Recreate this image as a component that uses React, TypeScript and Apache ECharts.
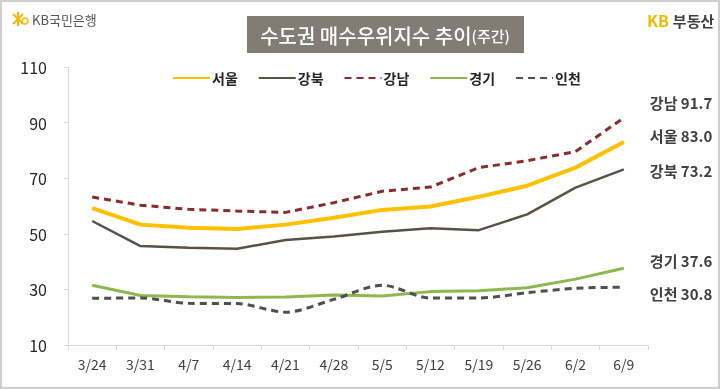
import React, { useEffect, useRef } from "react";
import * as echarts from "echarts";

const categories = ["3/24", "3/31", "4/7", "4/14", "4/21", "4/28", "5/5", "5/12", "5/19", "5/26", "6/2", "6/9"];
const seoul = [59.2, 53.3, 52.2, 51.7, 53.3, 55.8, 58.6, 59.8, 63.3, 67.3, 73.8, 83.0];
const gangbuk = [54.6, 45.6, 45.0, 44.6, 47.8, 49.0, 50.7, 52.0, 51.3, 57.0, 66.6, 73.2];
const gangnam = [63.2, 60.3, 58.8, 58.2, 57.7, 61.2, 65.3, 66.8, 73.8, 76.3, 79.6, 91.7];
const gyeonggi = [31.5, 27.8, 27.4, 27.1, 27.3, 28.0, 27.6, 29.2, 29.5, 30.6, 33.7, 37.6];
const incheon = [26.8, 26.9, 25.0, 24.9, 21.8, 26.4, 31.5, 26.9, 26.9, 28.8, 30.4, 30.8];

const FONT = '"Noto Sans CJK KR", "Noto Sans", sans-serif';

export default function App() {
  const ref = useRef<HTMLDivElement>(null);
  useEffect(() => {
    document.body.style.margin = "0";
    const chart = echarts.init(ref.current!, null, { renderer: "svg" });
    const endLabel = (dx: number, dy: number) => ({
      show: true,
      offset: [dx, dy],
      color: "#404040",
      fontSize: 15,
      fontWeight: "bold",
      fontFamily: FONT,
      formatter: (p: any) => {
        const v = Array.isArray(p.value) ? p.value[1] : p.value;
        return `${p.seriesName} ${Number(v).toFixed(1)}`;
      },
    });
    const mk = (name: string, data: number[], color: string, width: number, type: string, dx: number, dy: number, smooth: any = false, z = 2) => ({
      name,
      type: "line",
      data,
      symbol: "none",
      smooth,
      z,
      lineStyle: { color, width, type: type === "dashed" ? [7, 5] : "solid" },
      itemStyle: { color },
      endLabel: endLabel(dx, dy),
    });
    chart.setOption({
      animation: false,
      textStyle: { fontFamily: FONT },
      grid: { left: 68, right: 72, top: 67, bottom: 44 },
      legend: {
        top: 66,
        left: 167,
        itemWidth: 37,
        itemHeight: 10,
        itemGap: 20,
        itemStyle: { opacity: 0 },
        textStyle: { fontSize: 14, fontWeight: "bold", color: "#262626", fontFamily: FONT, padding: [0, 0, 0, -3] },
        data: ["서울", "강북", "강남", "경기", "인천"],
      },
      xAxis: {
        type: "category",
        data: categories,
        boundaryGap: true,
        axisLine: { lineStyle: { color: "#d9d9d9", width: 1 } },
        axisTick: { show: true, length: 5, lineStyle: { color: "#d9d9d9" } },
        axisLabel: { color: "#404040", fontSize: 14, margin: 12, fontFamily: FONT },
      },
      yAxis: {
        type: "value",
        min: 10,
        max: 110,
        interval: 20,
        splitLine: { show: false },
        axisLine: { show: true, lineStyle: { color: "#d9d9d9", width: 1 } },
        axisTick: { show: true, length: 4, lineStyle: { color: "#d9d9d9" } },
        axisLabel: { color: "#262626", fontSize: 16, margin: 21, fontFamily: FONT },
      },
      graphic: [
        { type: "rect", shape: { x: 1, y: 1, width: 718, height: 387 }, style: { fill: "none", stroke: "#cfcfcf", lineWidth: 2 }, z: 0 },
        { type: "rect", shape: { x: 247, y: 16, width: 277, height: 37 }, style: { fill: "#827d74" }, z: 1 },
        {
          type: "text",
          x: 385,
          y: 35,
          z: 2,
          style: {
            text: "{a|수도권 매수우위지수 추이}{b|(주간)}",
            align: "center",
            verticalAlign: "middle",
            rich: {
              a: { fill: "#ffffff", fontSize: 20, fontFamily: FONT, fontWeight: 500 },
              b: { fill: "#ffffff", fontSize: 15, fontFamily: FONT, fontWeight: 500 },
            },
          },
        },
        // KB국민은행 logo
        { type: "line", shape: { x1: 13, y1: 14, x2: 23, y2: 24 }, style: { stroke: "#f5b800", lineWidth: 2 } },
        { type: "line", shape: { x1: 13, y1: 24, x2: 23, y2: 14 }, style: { stroke: "#f5b800", lineWidth: 2 } },
        { type: "line", shape: { x1: 18, y1: 12, x2: 18, y2: 26 }, style: { stroke: "#f5b800", lineWidth: 2 } },
        { type: "circle", shape: { cx: 25, cy: 21, r: 3 }, style: { fill: "none", stroke: "#f5b800", lineWidth: 1.5 } },
        {
          type: "text",
          x: 32,
          y: 19,
          style: { text: "KB국민은행", fill: "#555555", fontSize: 13, fontFamily: FONT, verticalAlign: "middle" },
        },
        // KB부동산 logo
        {
          type: "text",
          x: 647,
          y: 20,
          style: {
            text: "{k|KB}{t|부동산}",
            verticalAlign: "middle",
            rich: {
              k: { fill: "#f5b800", fontSize: 16, fontWeight: "bold", fontFamily: FONT, padding: [0, 4, 0, 0] },
              t: { fill: "#404040", fontSize: 15, fontWeight: "bold", fontFamily: FONT },
            },
          },
        },
      ],
      series: [
        mk("서울", seoul, "#ffc000", 4, "solid", 18, -7, false, 4),
        mk("강북", gangbuk, "#595247", 2.5, "solid", 18, 1, false, 3),
        mk("강남", gangnam, "#8b2c2c", 3, "dashed", 18, -15, false, 3),
        mk("경기", gyeonggi, "#8cb84f", 3, "solid", 18, -8, false, 3),
        mk("인천", incheon, "#4f4f4f", 3, "dashed", 18, 6, 0.3, 4),
      ],
    });
    return () => chart.dispose();
  }, []);
  return <div ref={ref} style={{ position: "fixed", left: 0, top: 0, width: 720, height: 389 }} />;
}
